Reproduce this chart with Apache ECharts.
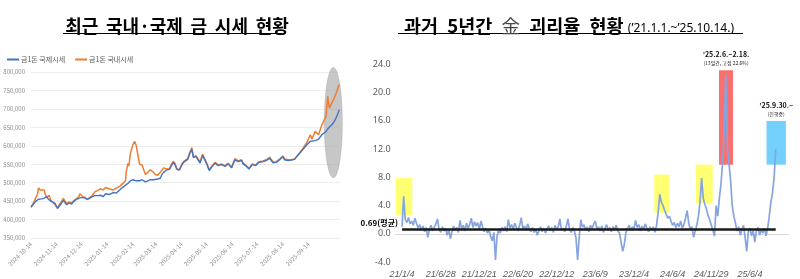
<!DOCTYPE html>
<html><head><meta charset="utf-8">
<script src="https://cdn.jsdelivr.net/npm/echarts@6/dist/echarts.min.js"></script>
<style>html,body{margin:0;padding:0;background:#fff}#c{width:800px;height:279px}</style>
</head><body><div id="c"></div>
<script>
// ---------- Left chart data: gold price per 1 don (KRW) ----------
const leftDates = ['2024-10-14','2024-10-17','2024-10-20','2024-10-22','2024-10-23','2024-10-25','2024-10-27','2024-10-30','2024-10-31','2024-11-02','2024-11-04','2024-11-05','2024-11-07','2024-11-09','2024-11-12','2024-11-15','2024-11-17','2024-11-20','2024-11-22','2024-11-24','2024-11-26','2024-11-29','2024-12-02','2024-12-05','2024-12-08','2024-12-11','2024-12-12','2024-12-15','2024-12-18','2024-12-21','2024-12-24','2024-12-27','2024-12-30','2025-01-03','2025-01-06','2025-01-09','2025-01-12','2025-01-14','2025-01-17','2025-01-21','2025-01-25','2025-01-29','2025-02-02','2025-02-05','2025-02-06','2025-02-08','2025-02-09','2025-02-11','2025-02-14','2025-02-16','2025-02-18','2025-02-20','2025-02-22','2025-02-25','2025-02-27','2025-03-01','2025-03-04','2025-03-07','2025-03-09','2025-03-11','2025-03-13','2025-03-16','2025-03-19','2025-03-21','2025-03-23','2025-03-27','2025-03-30','2025-04-02','2025-04-04','2025-04-06','2025-04-08','2025-04-11','2025-04-14','2025-04-16','2025-04-18','2025-04-21','2025-04-23','2025-04-26','2025-04-28','2025-05-01','2025-05-03','2025-05-06','2025-05-09','2025-05-11','2025-05-14','2025-05-17','2025-05-20','2025-05-24','2025-05-28','2025-06-01','2025-06-05','2025-06-09','2025-06-13','2025-06-17','2025-06-21','2025-06-25','2025-06-27','2025-07-01','2025-07-04','2025-07-08','2025-07-12','2025-07-16','2025-07-21','2025-07-25','2025-07-29','2025-08-02','2025-08-06','2025-08-10','2025-08-14','2025-08-16','2025-08-20','2025-08-24','2025-08-28','2025-09-01','2025-09-06','2025-09-10','2025-09-12','2025-09-16','2025-09-18','2025-09-22','2025-09-24','2025-09-26','2025-09-30','2025-10-02','2025-10-05','2025-10-07','2025-10-09','2025-10-12','2025-10-15','2025-10-18','2025-10-21'];
const domesticPrice = [435000,445000,460000,470000,486000,480000,483000,480000,470000,460000,462000,466000,452000,450000,440000,432000,435000,450000,457000,452000,443000,448000,445000,452000,457000,463000,470000,463000,460000,455000,460000,465000,475000,480000,484000,480000,487000,490000,483000,480000,485000,490000,498000,505000,530000,552000,545000,580000,603000,612000,600000,575000,550000,548000,545000,522000,528000,535000,540000,528000,522000,520000,528000,532000,540000,537000,538000,552000,558000,550000,538000,535000,550000,557000,555000,565000,578000,595000,570000,573000,572000,556000,577000,573000,553000,535000,544000,555000,548000,551000,546000,553000,542000,565000,559000,562000,553000,546000,539000,551000,548000,557000,559000,562000,569000,556000,557000,564000,573000,564000,562000,562000,564000,575000,589000,603000,609000,630000,618000,639000,643000,630000,657000,666000,680000,734000,702000,716000,730000,747000,766000];
const internationalPrice = [433000,442000,450000,453000,455000,455000,456000,458000,460000,462000,455000,453000,450000,448000,444000,430000,432000,445000,452000,450000,440000,445000,442000,450000,455000,458000,462000,460000,458000,455000,458000,462000,465000,465000,466000,462000,470000,472000,468000,473000,472000,480000,488000,493000,495000,498000,500000,505000,508000,510000,505000,508000,505000,508000,503000,502000,505000,508000,510000,508000,507000,510000,512000,522000,528000,535000,536000,548000,555000,548000,536000,534000,548000,555000,553000,563000,575000,590000,568000,571000,570000,553000,574000,571000,551000,533000,542000,553000,546000,549000,544000,551000,540000,562000,557000,560000,551000,544000,537000,549000,546000,555000,557000,560000,566000,554000,555000,562000,570000,562000,560000,561000,563000,574000,587000,598000,602000,612000,611000,614000,616000,618000,630000,634000,639000,643000,651000,657000,666000,680000,698000];
const leftTickDates = ['2024-10-14','2024-11-14','2024-12-14','2025-01-14','2025-02-14','2025-03-14','2025-04-14','2025-05-14','2025-06-14','2025-07-14','2025-08-14','2025-09-14'];
const leftEndDate = '2025-10-21';

// ---------- Right chart data: domestic/international gold price gap rate (%) ----------
const gapRate = [
1.0,5.3,2.0,1.6,2.3,1.4,1.8,1.2,2.2,1.5,
0.8,1.3,0.5,1.1,0.3,0.9,-0.5,0.7,1.2,0.4,
0.9,1.4,2.1,0.6,0.2,1.0,0.4,0.8,-0.2,0.6,
-0.7,0.3,1.1,0.5,0.9,0.2,1.9,0.7,1.2,0.4,
1.5,0.8,1.3,2.2,0.9,1.7,1.1,1.6,0.6,1.8,
1.0,0.3,0.8,0.1,0.6,-0.4,-1.0,0.2,-3.7,-0.3,
0.5,0.1,0.9,0.4,1.0,0.3,2.0,0.8,1.3,0.6,
1.5,0.9,0.4,1.2,2.3,0.7,1.1,0.5,1.4,0.8,
0.3,0.9,0.2,0.6,-0.2,0.5,1.0,0.3,0.8,0.1,
0.7,1.1,0.4,0.9,0.2,1.2,0.6,1.0,2.1,0.5,
0.8,0.3,1.1,2.1,0.6,0.2,0.9,0.4,-0.6,-3.7,
-0.5,2.0,0.9,1.3,0.5,1.0,0.3,1.2,0.7,1.4,
1.8,0.6,1.0,0.4,1.1,0.2,0.8,1.3,0.5,0.9,
0.3,1.0,0.6,1.2,0.4,0.1,-1.2,-2.5,-1.5,0.2,
0.8,1.2,0.5,1.0,0.7,1.9,0.9,1.3,0.4,1.1,
0.6,1.4,0.8,0.3,1.0,0.5,1.0,0.2,1.2,3.0,
5.6,4.5,4.0,3.3,2.8,2.2,2.5,1.8,1.2,1.6,
0.9,1.5,1.0,1.8,0.8,1.3,2.2,3.3,1.5,0.6,
1.0,-0.5,0.4,1.2,2.5,4.5,7.9,5.0,4.2,3.5,
2.6,2.0,1.2,0.5,-0.3,4.0,2.5,5.0,7.0,10.0,
14.5,22.6,12.0,10.0,7.5,4.0,2.5,1.5,0.4,1.0,
-0.2,0.6,1.2,-0.5,-2.5,0.3,0.8,-0.3,0.5,-1.2,
0.4,0.9,-0.2,0.6,0.1,0.8,-0.3,0.8,2.5,4.5,
5.8,8.0,12.0];
const gapTickLabels = ['21/1/4','21/6/28','21/12/21','22/6/20','22/12/12','23/6/9','23/12/4','24/6/4','24/11/29','25/6/4'];
const gapTickPositions = [0,24,48,72,96,120,144,168,192,216];
const gapMean = 0.69;

// ---------- build ----------
const DAY = 864e5;
const t0 = Date.parse(leftDates[0]);
const dayOf = s => Math.round((Date.parse(s) - t0) / DAY);
const domSeries = leftDates.map((d, i) => [dayOf(d), domesticPrice[i]]);
const intlSeries = leftDates.map((d, i) => [dayOf(d), internationalPrice[i]]);
const leftTickDays = leftTickDates.map(dayOf);
const gapSeries = gapRate.map((v, i) => [i, v]);
const lastIdx = gapRate.length - 1;

const KR = '"Noto Sans CJK KR", "Noto Sans", sans-serif';
const chart = echarts.init(document.getElementById('c'), null, {renderer: 'canvas'});

const boxLabel = (a, b) => ({
  show: true, position: 'top', distance: 3,
  formatter: b ? '{a|' + a + '}\n{b|' + b + '}' : '{a|' + a + '}',
  rich: {
    a: {fontSize: 7, fontWeight: 'bold', color: '#111', fontFamily: KR, lineHeight: 10, align: 'center'},
    b: {fontSize: 5, color: '#222', fontFamily: KR, lineHeight: 8, align: 'center'}
  }
});

const SP = ' \u2009';
chart.setOption({
  animation: false,
  backgroundColor: '#fff',
  textStyle: {fontFamily: KR},
  title: [
    {text: '최근' + SP + '국내·국제' + SP + '금' + SP + '시세' + SP + '현황', left: 172, textAlign: 'center', top: 12,
     textStyle: {fontSize: 18, fontWeight: 'bold', color: '#000', fontFamily: KR}},
    {text: '{b|과거\u20025년간\u2002}{g|金}{b|\u2002괴리율\u2002현황 }{s|(’21.1.1.~’25.10.14.)}', left: 399, top: 12,
     textStyle: {rich: {
       b: {fontSize: 18.5, fontWeight: 'bold', color: '#000', fontFamily: KR, verticalAlign: 'bottom'},
       g: {fontSize: 18.5, fontWeight: 'normal', color: '#444', fontFamily: KR, verticalAlign: 'bottom'},
       s: {fontSize: 12, fontWeight: 'normal', color: '#000', fontFamily: '"Noto Sans", sans-serif', verticalAlign: 'bottom', padding: [0, 0, 1, 0]}
     }}}
  ],
  legend: {
    data: ['금1돈 국제시세', '금1돈 국내시세'],
    left: 2, top: 51, icon: 'rect', itemWidth: 12, itemHeight: 2, itemGap: 10,
    textStyle: {fontSize: 7, color: '#595959', fontFamily: KR, padding: [0, 0, 0, -3]}
  },
  grid: [
    {left: 31, right: 460.7, top: 72, bottom: 41},
    {left: 395.6, right: 11.4, top: 64.5, bottom: 14}
  ],
  xAxis: [
    {type: 'value', gridIndex: 0, min: 0, max: dayOf(leftEndDate),
     splitLine: {show: false}, axisLine: {show: false}, axisTick: {show: false},
     axisLabel: {customValues: leftTickDays, rotate: 45, fontSize: 6, color: '#8c8c8c', margin: 5,
       formatter: v => leftTickDates[leftTickDays.indexOf(v)] || ''}},
    {type: 'value', gridIndex: 1, min: -4, max: 240,
     splitLine: {show: false}, axisTick: {show: false},
     axisLine: {show: true, onZero: true, lineStyle: {color: '#d9d9d9', width: 1}},
     axisLabel: {customValues: gapTickPositions, fontSize: 9, fontStyle: 'italic', color: '#595959', margin: 8,
       fontFamily: '"Liberation Sans", sans-serif',
       formatter: v => gapTickLabels[gapTickPositions.indexOf(v)] || ''}}
  ],
  yAxis: [
    {type: 'value', gridIndex: 0, min: 350000, max: 800000, interval: 50000,
     axisLine: {show: false}, axisTick: {show: false},
     splitLine: {show: true, lineStyle: {color: '#ececec', width: 1}},
     axisLabel: {fontSize: 6, color: '#8c8c8c', margin: 6, formatter: v => v.toLocaleString('en-US')}},
    {type: 'value', gridIndex: 1, min: -4, max: 24, interval: 4,
     axisLine: {show: false}, axisTick: {show: false}, splitLine: {show: false},
     axisLabel: {fontSize: 9, color: '#595959', margin: 5, fontFamily: '"Noto Sans", sans-serif',
       formatter: v => v.toFixed(1)}}
  ],
  series: [
    {name: '금1돈 국제시세', type: 'line', xAxisIndex: 0, yAxisIndex: 0, data: intlSeries,
     showSymbol: false, lineStyle: {color: '#4472c4', width: 1.4}, itemStyle: {color: '#4472c4'}, z: 3},
    {name: '금1돈 국내시세', type: 'line', xAxisIndex: 0, yAxisIndex: 0, data: domSeries,
     showSymbol: false, lineStyle: {color: '#ed7d31', width: 1.5}, itemStyle: {color: '#ed7d31'}, z: 2},
    {name: '괴리율', type: 'line', xAxisIndex: 1, yAxisIndex: 1, data: gapSeries,
     showSymbol: false, lineStyle: {color: '#86a5e0', width: 1.7}, itemStyle: {color: '#86a5e0'}, z: 2,
     markLine: {silent: true, symbol: ['none', 'none'], animation: false,
       lineStyle: {color: '#1a1a1a', width: 2.5, type: 'solid'},
       label: {show: false},
       data: [[{coord: [0, gapMean]}, {coord: [lastIdx, gapMean]}]]}},
    {name: 'boxes', type: 'line', xAxisIndex: 1, yAxisIndex: 1, data: [], z: 5,
     markArea: {silent: true, animation: false, data: [
       [{coord: [-3.9, 7.9], itemStyle: {color: 'rgba(255,255,60,0.72)'}}, {coord: [6.4, 2.6]}],
       [{coord: [156.6, 8.4], itemStyle: {color: 'rgba(255,255,60,0.72)'}}, {coord: [165.8, 3.0]}],
       [{coord: [182.3, 9.8], itemStyle: {color: 'rgba(255,255,60,0.72)'}}, {coord: [192.9, 4.3]}],
       [{coord: [196.8, 23.2], itemStyle: {color: 'rgba(250,70,70,0.78)'}, label: boxLabel('’25.2.6.~2.18.', '(13일간, 고점 22.6%)')}, {coord: [205.5, 9.8]}],
       [{coord: [226.3, 16.0], itemStyle: {color: 'rgba(60,190,250,0.72)'}, label: boxLabel('’25.9.30.~', '(진행중)')}, {coord: [238.3, 9.8]}]
     ]}}
  ]
});

// annotations placed from data coordinates: ellipse on the left, mean label on the right; title underlines
const ex = chart.convertToPixel({xAxisIndex: 0}, dayOf('2025-10-15'));
const eTop = chart.convertToPixel({yAxisIndex: 0}, 812000);
const eBot = chart.convertToPixel({yAxisIndex: 0}, 513000);
const mx = chart.convertToPixel({xAxisIndex: 1}, 0);
const my = chart.convertToPixel({yAxisIndex: 1}, gapMean);
chart.setOption({
  graphic: [
    {type: 'ellipse', shape: {cx: ex - 1, cy: (eTop + eBot) / 2, rx: 9, ry: (eBot - eTop) / 2}, z: 1,
     style: {fill: 'rgba(175,175,175,0.7)', stroke: 'rgba(150,150,150,0.6)', lineWidth: 0.6}},
    {type: 'text', x: mx - 4, y: my - 6, z: 10,
     style: {text: gapMean.toFixed(2) + '(평균)', fill: '#000',
       font: 'bold 8px "Noto Sans CJK KR", sans-serif', textAlign: 'right', textVerticalAlign: 'middle'}},
    {type: 'line', shape: {x1: 63, y1: 33.5, x2: 282, y2: 33.5}, style: {stroke: '#000', lineWidth: 1.2}},
    {type: 'line', shape: {x1: 398, y1: 33.5, x2: 743, y2: 33.5}, style: {stroke: '#000', lineWidth: 1.2}}
  ]
});
</script></body></html>
